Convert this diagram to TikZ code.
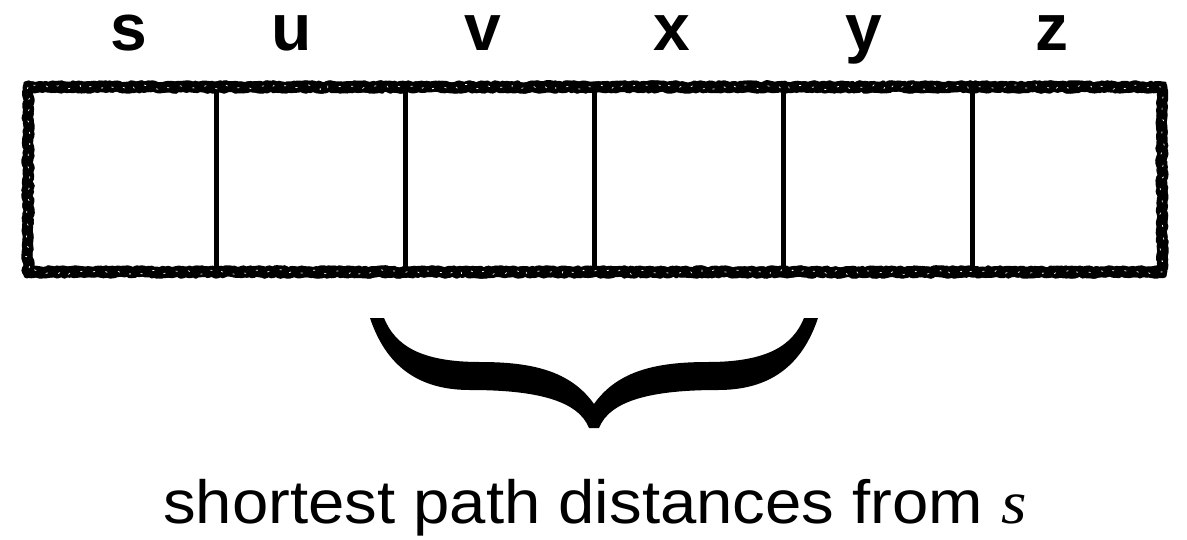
\documentclass[tikz,border=0pt]{standalone}
\usepackage{fontspec}
\setmainfont{Liberation Sans}
\newfontfamily\timesfam{Liberation Serif}
\usetikzlibrary{decorations.pathmorphing}
\begin{document}
\begin{tikzpicture}[x=1pt,y=-1pt,
  rough/.style={line width=#1, decorate, decoration={random steps,segment length=3pt,amplitude=1.3pt}, line join=round},
  divider/.style={line width=5pt},
  lbl/.style={font=\fontsize{66}{66}\selectfont\bfseries, anchor=base, inner sep=0pt},
  caption/.style={font=\fontsize{61}{61}\selectfont, anchor=base west, inner sep=0pt}]
\pgfmathsetseed{7}
\useasboundingbox (0,0) rectangle (1187,539);
% labels
\node[lbl] (ls) at (129,50) {s};
\node[lbl] (lu) at (292,50) {u};
\node[lbl] (lv) at (483,50) {v};
\node[lbl] (lx) at (672,50) {x};
\node[lbl] (ly) at (864,50) {y};
\node[lbl] (lz) at (1052,50) {z};
% dividers
\foreach \xx in {216,405,594,783,972}
  \draw[divider] (\xx,87) -- (\xx,272);
% rough outer border
\draw[rough=11pt] (28,87) rectangle (1162,272);
\draw[rough=3pt] (25,83) rectangle (1165,276);
\draw[rough=3pt] (31,91) rectangle (1159,268);
\draw[white, line width=0.7pt, decorate, decoration={random steps,segment length=4pt,amplitude=2.5pt}, dash pattern=on 2pt off 11pt] (28,87) rectangle (1162,272);
% brace
\fill[black] (370,318) .. controls (388,372) and (425,390) .. (470,390)
  .. controls (535,390) and (578,400) .. (589,428) -- (599,428)
  .. controls (610,400) and (653,390) .. (718,390)
  .. controls (763,390) and (800,372) .. (818,318) -- (804,318)
  .. controls (793,345) and (768,362) .. (708,362)
  .. controls (658,362) and (618,370) .. (594,404)
  .. controls (570,370) and (530,362) .. (480,362)
  .. controls (420,362) and (395,345) .. (384,318) -- cycle;
% caption
\node[caption] (cap) at (163,523) {\scalebox{1.07}[1]{shortest path distances from {\timesfam\itshape s}}};
\end{tikzpicture}
\end{document}
